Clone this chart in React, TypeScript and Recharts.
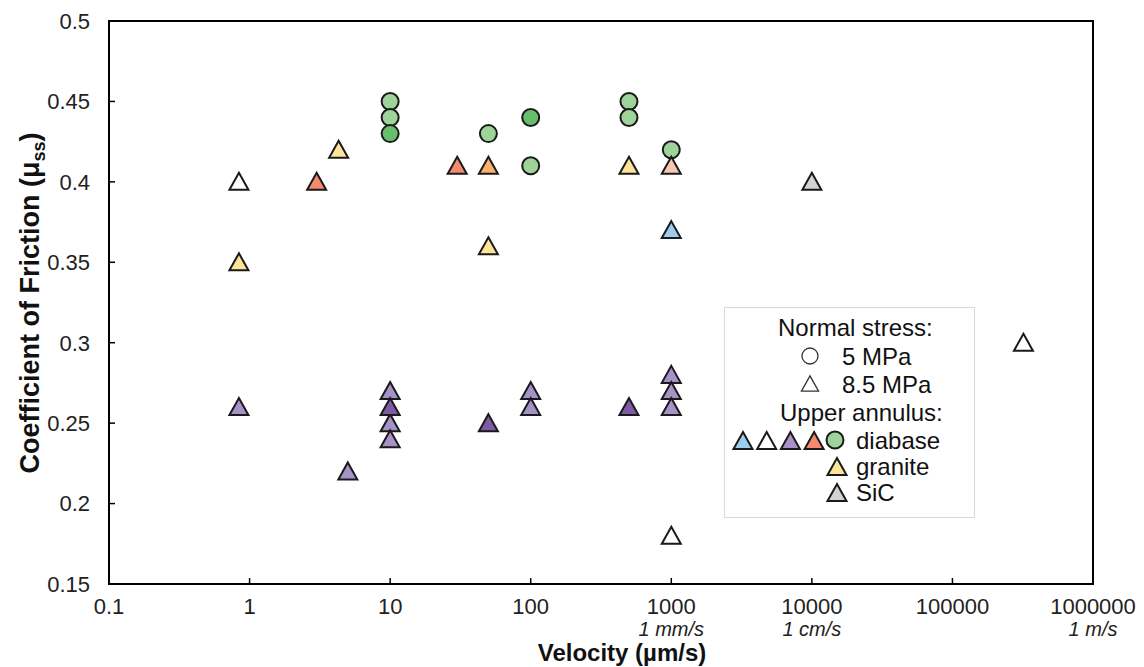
import { ScatterChart, Scatter, XAxis, YAxis, ReferenceArea, Label } from 'recharts';

const X_TICKS = [0.1, 1, 10, 100, 1000, 10000, 100000, 1000000];
const X_TICK_LABELS = ['0.1', '1', '10', '100', '1000', '10000', '100000', '1000000'];
const X_SUB_LABELS = ['', '', '', '', '1 mm/s', '1 cm/s', '', '1 m/s'];
const Y_TICKS = [0.15, 0.2, 0.25, 0.3, 0.35, 0.4, 0.45, 0.5];
const Y_TICK_LABELS = ['0.15', '0.2', '0.25', '0.3', '0.35', '0.4', '0.45', '0.5'];

// diabase, 5 MPa
const diabaseCircleLight = [
  { x: 10, y: 0.45 },
  { x: 10, y: 0.44 },
  { x: 50, y: 0.43 },
  { x: 100, y: 0.41 },
  { x: 500, y: 0.45 },
  { x: 500, y: 0.44 },
  { x: 1000, y: 0.42 },
];
const diabaseCircleDark = [
  { x: 10, y: 0.43 },
  { x: 100, y: 0.44 },
];

// 8.5 MPa triangles
const triWhite = [
  { x: 0.84, y: 0.4 },
  { x: 1000, y: 0.18 },
  { x: 320000, y: 0.3 },
];
const triGranite = [
  { x: 0.84, y: 0.35 },
  { x: 4.3, y: 0.42 },
  { x: 50, y: 0.36 },
  { x: 500, y: 0.41 },
];
const triOrange = [{ x: 50, y: 0.41 }];
const triRed = [
  { x: 3, y: 0.4 },
  { x: 30, y: 0.41 },
];
const triSalmon = [{ x: 1000, y: 0.41 }];
const triBlue = [{ x: 1000, y: 0.37 }];
const triSiC = [{ x: 10000, y: 0.4 }];
const triPurpleLight = [
  { x: 0.84, y: 0.26 },
  { x: 5, y: 0.22 },
  { x: 10, y: 0.27 },
  { x: 10, y: 0.25 },
  { x: 10, y: 0.24 },
  { x: 100, y: 0.27 },
  { x: 100, y: 0.26 },
  { x: 1000, y: 0.28 },
  { x: 1000, y: 0.27 },
  { x: 1000, y: 0.26 },
];
const triPurpleDark = [
  { x: 10, y: 0.26 },
  { x: 50, y: 0.25 },
  { x: 500, y: 0.26 },
];

const EDGE = '#1a1a1a';
const FONT = '"Liberation Sans", Arial, sans-serif';

const C = {
  lightGreen: '#9ed39a',
  darkGreen: '#66bf6b',
  white: '#ffffff',
  yellow: '#fde499',
  orange: '#fcb16a',
  red: '#f38a6e',
  salmon: '#fbc6b1',
  blue: '#9ccdee',
  grey: '#d3d3d3',
  lightPurple: '#a792c7',
  darkPurple: '#7f5ba6',
};

const SERIES = [
  { name: 'diabase 5 MPa', data: diabaseCircleLight, fill: C.lightGreen, circle: true },
  { name: 'diabase 5 MPa b', data: diabaseCircleDark, fill: C.darkGreen, circle: true },
  { name: 'white', data: triWhite, fill: C.white },
  { name: 'granite', data: triGranite, fill: C.yellow },
  { name: 'orange', data: triOrange, fill: C.orange },
  { name: 'red', data: triRed, fill: C.red },
  { name: 'salmon', data: triSalmon, fill: C.salmon },
  { name: 'blue', data: triBlue, fill: C.blue },
  { name: 'SiC', data: triSiC, fill: C.grey },
  { name: 'purple', data: triPurpleLight, fill: C.lightPurple },
  { name: 'purple dark', data: triPurpleDark, fill: C.darkPurple },
];

const triPath = (cx: number, cy: number, s = 1) =>
  `M${cx},${cy - 9 * s} L${cx + 9.5 * s},${cy + 8 * s} L${cx - 9.5 * s},${cy + 8 * s} Z`;

const Circle = (props: any) => (
  <circle cx={props.cx} cy={props.cy} r={8.5} fill={props.fill} stroke={EDGE} strokeWidth={2} />
);
const Triangle = (props: any) => (
  <path d={triPath(props.cx, props.cy)} fill={props.fill} stroke={EDGE} strokeWidth={2} strokeLinejoin="miter" />
);

const XTick = (props: any) => {
  const { x, y, payload } = props;
  const i = X_TICKS.indexOf(payload.value);
  return (
    <g>
      <line x1={x} x2={x} y1={y} y2={y - 6} stroke="#000" strokeWidth={1.5} />
      <text x={x} y={y + 30} textAnchor="middle" fontSize={22} fontFamily={FONT} fill="#222">
        {X_TICK_LABELS[i]}
      </text>
      {X_SUB_LABELS[i] && (
        <text x={x} y={y + 52} textAnchor="middle" fontSize={20} fontStyle="italic" fontFamily={FONT} fill="#222">
          {X_SUB_LABELS[i]}
        </text>
      )}
    </g>
  );
};

const YTick = (props: any) => {
  const { x, y, payload } = props;
  const i = Y_TICKS.indexOf(payload.value);
  return (
    <g>
      <line x1={x} x2={x + 6} y1={y} y2={y} stroke="#000" strokeWidth={1.5} />
      <text x={x - 19} y={y} dy="0.36em" textAnchor="end" fontSize={22} fontFamily={FONT} fill="#222">
        {Y_TICK_LABELS[i]}
      </text>
    </g>
  );
};

const LegendBox = () => {
  const t = { fontSize: 24, fontFamily: FONT, fill: '#111' };
  return (
    <svg width={254} height={212} style={{ position: 'absolute', left: 716, top: 299 }}>
      <rect x={0.5} y={0.5} width={250} height={210} fill="#fff" stroke="#d9d9d9" />
      <text x={54} y={29} {...t}>Normal stress:</text>
      <circle cx={86} cy={49} r={8} fill="#fff" stroke="#333" strokeWidth={1.3} />
      <text x={118} y={58} {...t}>5 MPa</text>
      <path d={triPath(86, 77, 0.9)} fill="#fff" stroke="#333" strokeWidth={1.3} />
      <text x={118} y={86} {...t}>8.5 MPa</text>
      <text x={56} y={114} {...t}>Upper annulus:</text>
      {[C.blue, C.white, C.lightPurple, C.red].map((c, k) => (
        <path key={k} d={triPath(19 + k * 23.7, 134)} fill={c} stroke={EDGE} strokeWidth={2} />
      ))}
      <circle cx={111} cy={133} r={8.5} fill={C.lightGreen} stroke={EDGE} strokeWidth={2} />
      <text x={132} y={142} {...t}>diabase</text>
      <path d={triPath(113, 160)} fill={C.yellow} stroke={EDGE} strokeWidth={2} />
      <text x={132} y={168} {...t}>granite</text>
      <path d={triPath(113, 186)} fill={C.grey} stroke={EDGE} strokeWidth={2} />
      <text x={132} y={194} {...t}>SiC</text>
    </svg>
  );
};

export default function App() {
  return (
    <div style={{ position: 'relative', width: 1136, height: 659 }}>
      <ScatterChart width={1136} height={659} margin={{ top: 13, right: 51, left: 0, bottom: 0 }}>
        <XAxis
          dataKey="x"
          type="number"
          scale="log"
          domain={[0.1, 1000000]}
          ticks={X_TICKS}
          allowDataOverflow
          height={83}
          tickSize={0}
          tickMargin={0}
          tick={<XTick />}
          axisLine={{ stroke: '#000', strokeWidth: 2 }}
          tickLine={false}
        >
          <Label
            content={() => (
              <text x={614} y={653} textAnchor="middle" fontSize={24} fontWeight="bold" fontFamily={FONT} fill="#111">
                Velocity (µm/s)
              </text>
            )}
          />
        </XAxis>
        <YAxis
          dataKey="y"
          type="number"
          domain={[0.15, 0.5]}
          ticks={Y_TICKS}
          allowDataOverflow
          width={101}
          tickSize={0}
          tickMargin={0}
          tick={<YTick />}
          axisLine={{ stroke: '#000', strokeWidth: 2 }}
          tickLine={false}
        >
          <Label
            content={() => (
              <text
                x={31}
                y={295}
                transform="rotate(-90, 31, 295)"
                textAnchor="middle"
                fontSize={27}
                fontWeight="bold"
                fontFamily={FONT}
                fill="#111"
              >
                <tspan>Coefficient of Friction (μ</tspan>
                <tspan dy={6} fontSize={18}>ss</tspan>
                <tspan dy={-6}>)</tspan>
              </text>
            )}
          />
        </YAxis>
        <ReferenceArea
          x1={0.1}
          x2={1000000}
          y1={0.15}
          y2={0.5}
          fill="none"
          stroke="#000"
          strokeWidth={2}
          ifOverflow="visible"
        />
        {SERIES.map((s) => (
          <Scatter
            key={s.name}
            name={s.name}
            data={s.data}
            fill={s.fill}
            shape={s.circle ? Circle : Triangle}
            isAnimationActive={false}
          />
        ))}
      </ScatterChart>
      <LegendBox />
    </div>
  );
}
